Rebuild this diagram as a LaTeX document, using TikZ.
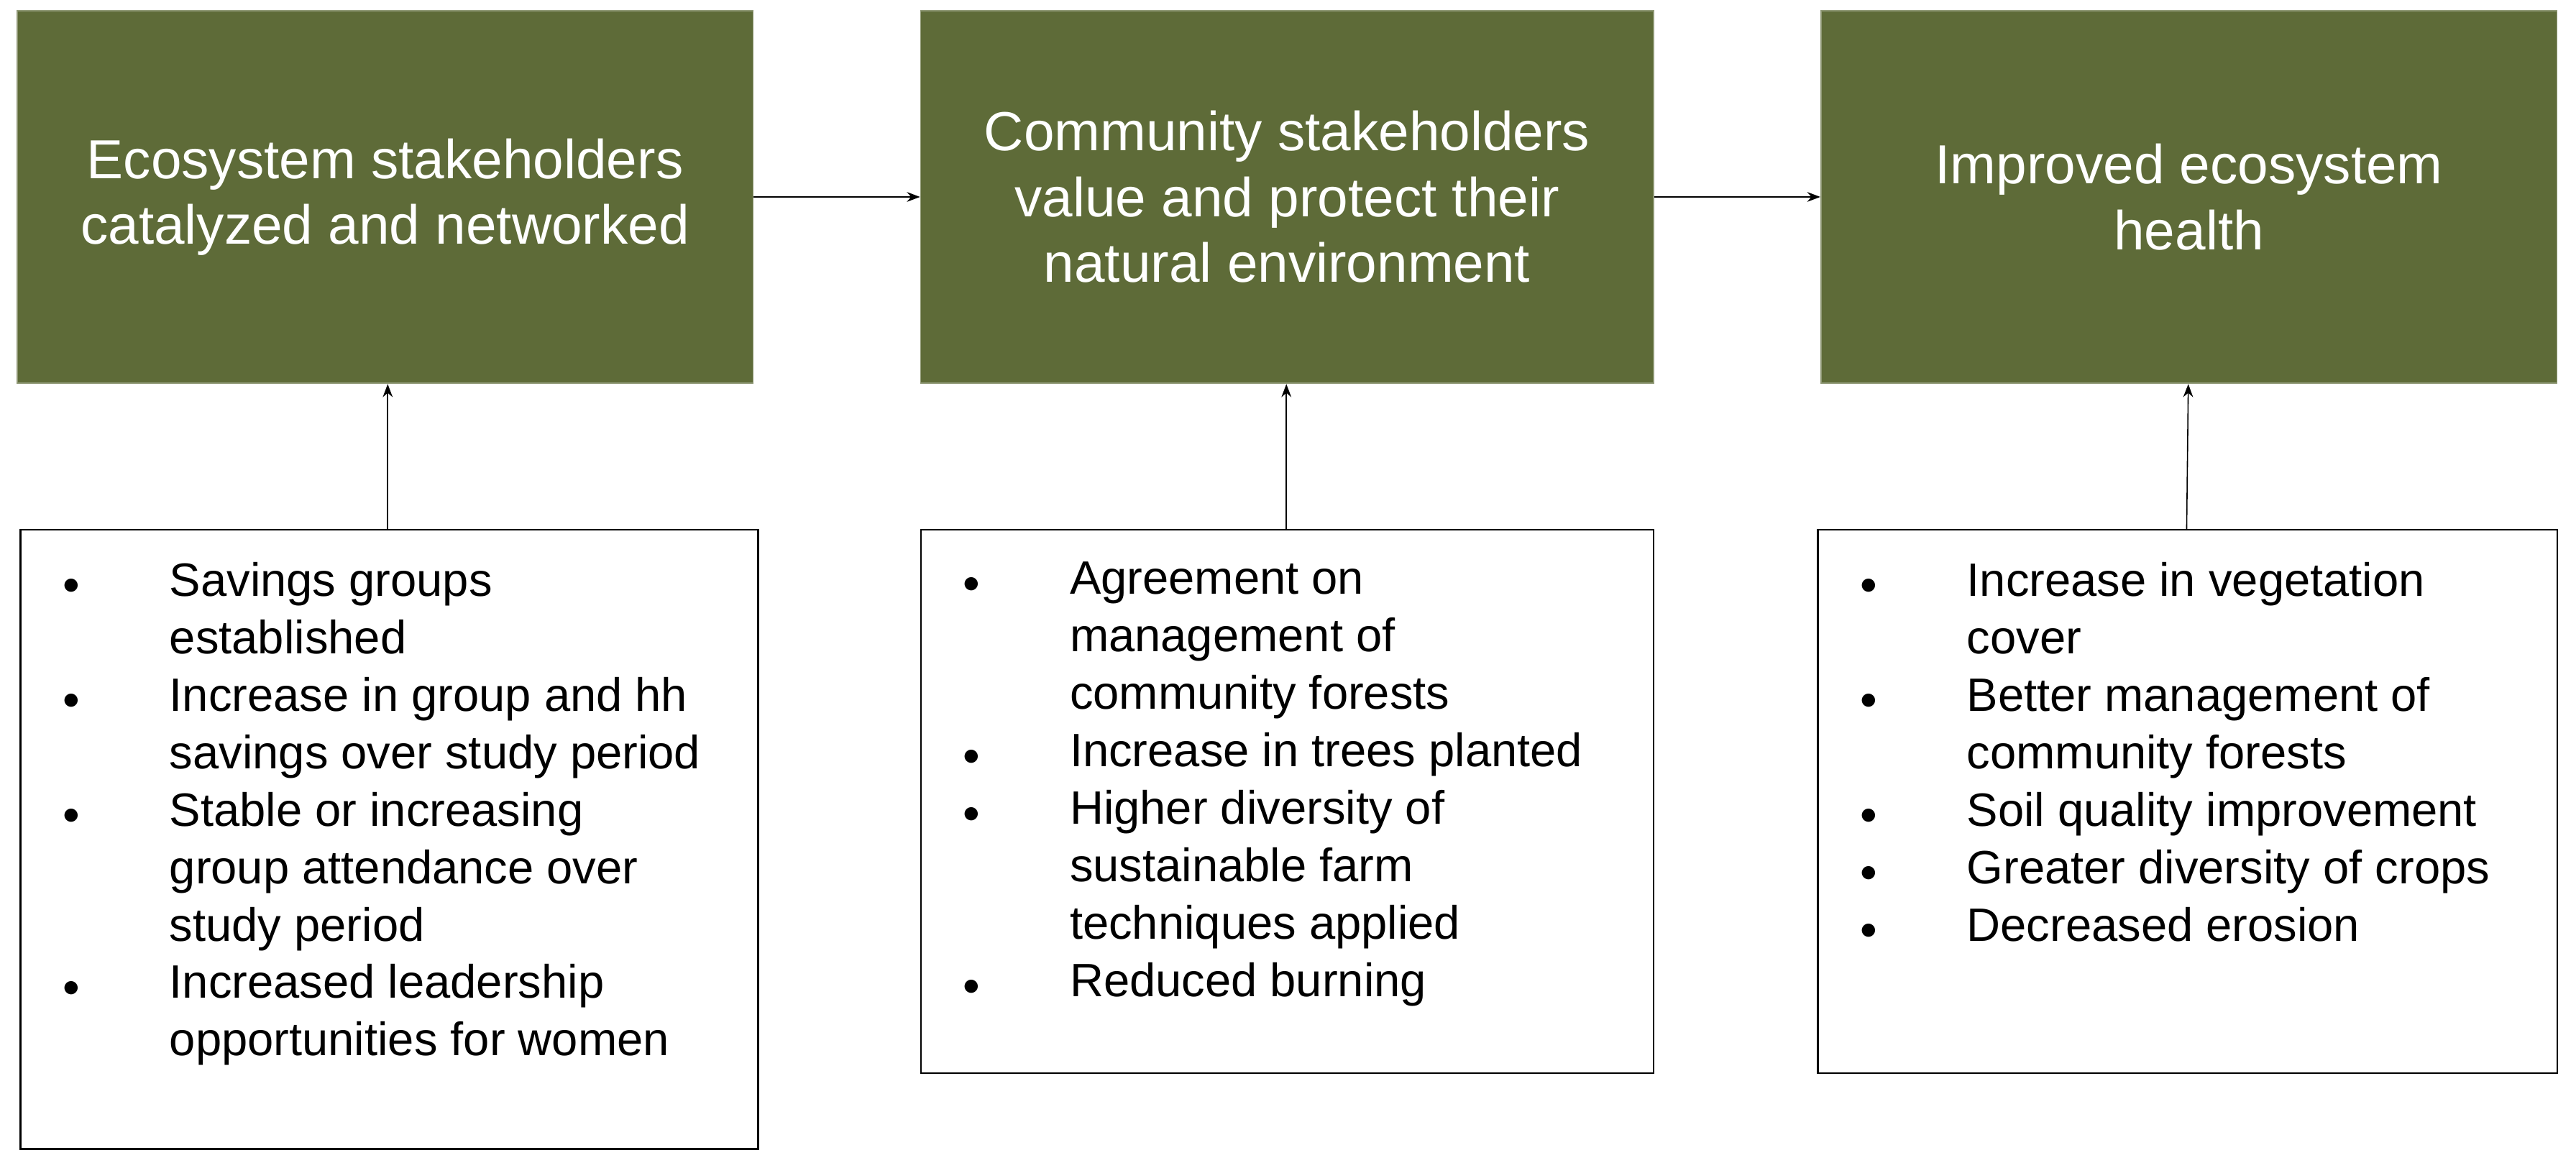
\documentclass[tikz,border=0pt]{standalone}
\usepackage{fontspec}
\setmainfont{Liberation Sans}
\usetikzlibrary{arrows.meta}
\definecolor{olive}{HTML}{5E6B38}
\begin{document}
\begin{tikzpicture}[x=1pt,y=-1pt,
 top/.style={fill=olive,draw=olive!70!white,line width=0.8pt,minimum width=448pt,minimum height=227pt,anchor=north west,text=white,align=center,font=\fontsize{33.5}{40}\selectfont},
 bot/.style={draw=black,line width=1pt,anchor=north west,minimum width=449pt},
 lst/.style={anchor=north west,inner sep=0pt,align=left,font=\fontsize{28.5}{35}\selectfont},
 arr/.style={-{Stealth[length=8pt,width=6pt]},line width=0.7pt}]
\useasboundingbox (0,0) rectangle (1568,711);
\newcommand{\bl}[1]{\makebox[65pt][l]{\raisebox{1pt}{\fontsize{22}{22}\selectfont$\bullet$}}#1}
\newcommand{\cl}[1]{\hspace*{65pt}#1}
\node[top] (t1) at (10,6) {Ecosystem stakeholders\\catalyzed and networked};
\node[top,minimum width=446pt] (t2) at (560,6) {Community stakeholders\\value and protect their\\natural environment};
\node[top] (t3) at (1108,6) {Improved ecosystem\\health};
\node[bot,minimum height=377pt] (b1) at (12,322) {};
\node[bot,minimum width=446pt,minimum height=331pt] (b2) at (560,322) {};
\node[bot,minimum width=450pt,minimum height=331pt] (b3) at (1106,322) {};
\node[lst] (l1) at (38,342) {\bl{Savings groups}\\\cl{established}\\\bl{Increase in group and hh}\\\cl{savings over study period}\\\bl{Stable or increasing}\\\cl{group attendance over}\\\cl{study period}\\\bl{Increased leadership}\\\cl{opportunities for women}};
\node[lst] (l2) at (586,342) {\bl{Agreement on}\\\cl{management of}\\\cl{community forests}\\\bl{Increase in trees planted}\\\bl{Higher diversity of}\\\cl{sustainable farm}\\\cl{techniques applied}\\\bl{Reduced burning}};
\node[lst] (l3) at (1132,342) {\bl{Increase in vegetation}\\\cl{cover}\\\bl{Better management of}\\\cl{community forests}\\\bl{Soil quality improvement}\\\bl{Greater diversity of crops}\\\bl{Decreased erosion}};
\draw[arr] (t1.east) -- (t2.west);
\draw[arr] (t2.east) -- (t3.west);
\draw[arr] (b1.north -| 236,0) -- (t1.south -| 236,0);
\draw[arr] (b2.north -| 783,0) -- (t2.south -| 783,0);
\draw[arr] (b3.north -| 1331,0) -- (t3.south -| 1332,0);
\end{tikzpicture}
\end{document}
